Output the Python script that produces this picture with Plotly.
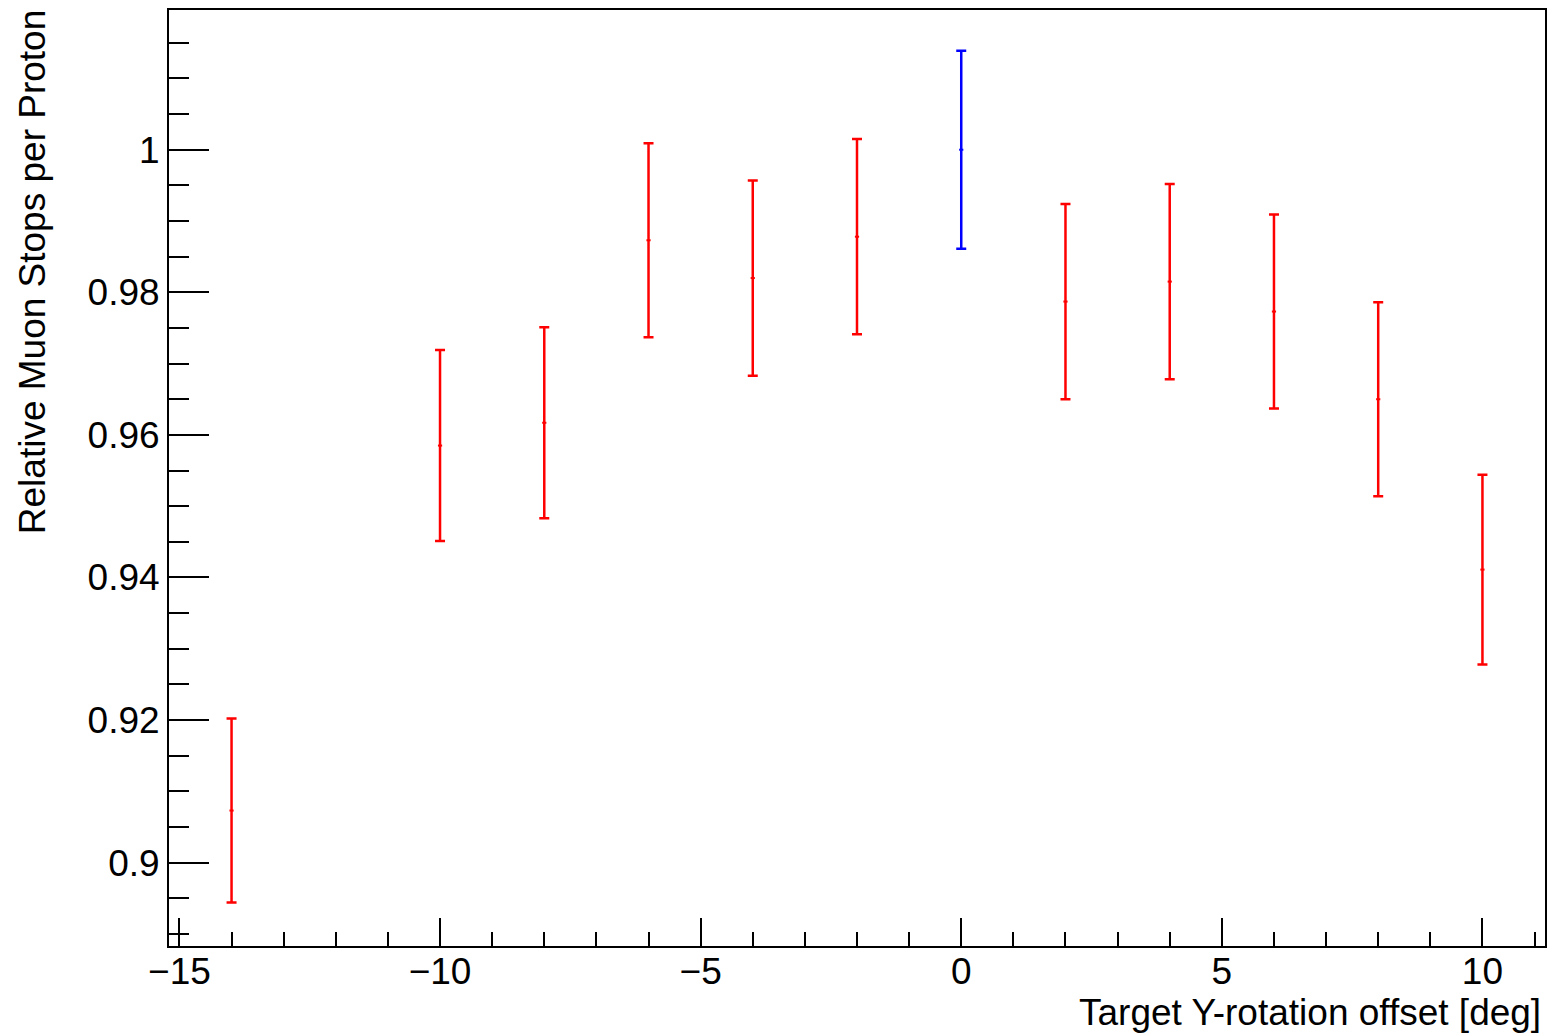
import plotly.graph_objects as go

# Data
x_red = [-14, -10, -8, -6, -4, -2, 2, 4, 6, 8, 10]
y_red = [0.9073, 0.9585, 0.9617, 0.9873, 0.9820, 0.9878, 0.9787, 0.9815, 0.9773, 0.9650, 0.9411]
err_red = [0.0129, 0.0134, 0.0134, 0.0136, 0.0137, 0.0137, 0.0137, 0.0137, 0.0136, 0.0136, 0.0133]

x_blue = [0]
y_blue = [1.0]
err_blue = [0.0139]

ytickvals = [0.9, 0.92, 0.94, 0.96, 0.98, 1.0]
yticktext = ["0.9", "0.92", "0.94", "0.96", "0.98", "1"]
xtickvals = [-15, -10, -5, 0, 5, 10]

FONT = "Liberation Sans, Arial, Helvetica, sans-serif"
FS = 37
W, H = 1551, 1035
L, R, T, B = 169, 4, 10, 89
PW, PH = W - L - R, H - T - B

fig = go.Figure()
fig.add_trace(go.Scatter(
    x=x_red, y=y_red, mode="markers",
    marker=dict(color="red", size=3, symbol="line-ew", line=dict(color="red", width=2)),
    error_y=dict(type="data", array=err_red, visible=True, color="red", thickness=2.5, width=5),
    showlegend=False))
fig.add_trace(go.Scatter(
    x=x_blue, y=y_blue, mode="markers",
    marker=dict(color="blue", size=3, symbol="line-ew", line=dict(color="blue", width=2)),
    error_y=dict(type="data", array=err_blue, visible=True, color="blue", thickness=2.5, width=5),
    showlegend=False))

fig.update_layout(
    width=W, height=H,
    margin=dict(l=L, r=R, t=T, b=B, pad=0),
    paper_bgcolor="white", plot_bgcolor="white",
    font=dict(family=FONT, size=FS, color="black"),
    xaxis=dict(
        range=[-15.2, 11.2], showgrid=False, zeroline=False,
        showline=True, linecolor="black", linewidth=2, mirror=True,
        ticks="inside", ticklen=28, tickwidth=2, tickcolor="black",
        tickvals=xtickvals, tickfont=dict(size=FS), ticklabelstandoff=-8,
        minor=dict(ticks="inside", ticklen=14, tickwidth=2, tickcolor="black",
                   dtick=1, tick0=0, showgrid=False),
    ),
    yaxis=dict(
        range=[0.8883, 1.0196], showgrid=False, zeroline=False,
        showline=True, linecolor="black", linewidth=2, mirror=True,
        ticks="inside", ticklen=40, tickwidth=2, tickcolor="black",
        tickvals=ytickvals, ticktext=yticktext, tickfont=dict(size=FS),
        minor=dict(ticks="inside", ticklen=20, tickwidth=2, tickcolor="black",
                   dtick=0.005, tick0=0.9, showgrid=False),
    ),
    annotations=[
        dict(text="Target Y-rotation offset [deg]", xref="paper", yref="paper",
             x=(1545 - L) / PW, y=(H - B - 1012) / PH, xanchor="right", yanchor="middle",
             showarrow=False, font=dict(size=FS)),
        dict(text="Relative Muon Stops per Proton", xref="paper", yref="paper",
             x=(32 - L) / PW, y=(H - B - 8) / PH, xanchor="center", yanchor="top",
             textangle=-90, showarrow=False, font=dict(size=FS)),
    ],
)

fig.write_html("out.html")
